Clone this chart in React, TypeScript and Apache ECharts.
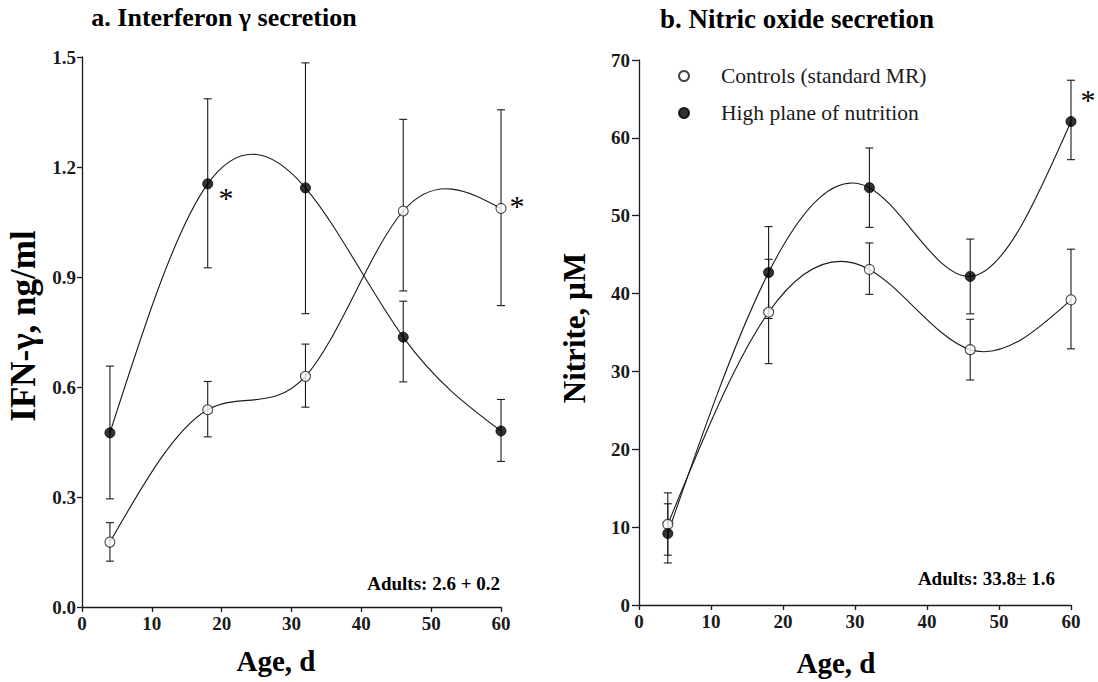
import React, { useEffect, useRef } from 'react';
import * as echarts from 'echarts';

// ---- Data ----
const ages = [4, 18, 32, 46, 60];
const xTicks = [0, 10, 20, 30, 40, 50, 60];

// Panel a: Interferon-gamma secretion (ng/ml)
const ifnControl = [0.177, 0.538, 0.629, 1.08, 1.087];
const ifnControlLow = [0.125, 0.464, 0.545, 0.862, 0.822];
const ifnControlHigh = [0.23, 0.615, 0.717, 1.33, 1.356];
const ifnHigh = [0.475, 1.154, 1.143, 0.736, 0.48];
const ifnHighLow = [0.295, 0.925, 0.8, 0.614, 0.397];
const ifnHighHigh = [0.657, 1.386, 1.484, 0.834, 0.566];

// Panel b: Nitric oxide secretion (nitrite, µM)
const noControl = [10.35, 37.6, 43.1, 32.8, 39.2];
const noControlLow = [6.4, 31.0, 39.9, 28.9, 32.9];
const noControlHigh = [14.4, 44.4, 46.5, 36.7, 45.7];
const noHigh = [9.18, 42.7, 53.6, 42.2, 62.1];
const noHighLow = [5.4, 36.8, 48.5, 37.4, 57.2];
const noHighHigh = [13.0, 48.6, 58.7, 47.0, 67.4];

const CONTROL_NAME = 'Controls (standard MR)';
const HIGH_NAME = 'High plane of nutrition';

const SERIF = "'Liberation Serif', 'Times New Roman', serif";
const INK = '#1a1a1a';

// natural cubic spline slopes at the nodes
function splineSlopes(xs: number[], ys: number[]): number[] {
  const n = xs.length;
  const h: number[] = [];
  for (let i = 0; i < n - 1; i++) h.push(xs[i + 1] - xs[i]);
  const a: number[] = [], b: number[] = [], c: number[] = [], d: number[] = [];
  for (let i = 1; i < n - 1; i++) {
    a.push(h[i - 1]);
    b.push(2 * (h[i - 1] + h[i]));
    c.push(h[i]);
    d.push(6 * ((ys[i + 1] - ys[i]) / h[i] - (ys[i] - ys[i - 1]) / h[i - 1]));
  }
  const m = a.length;
  for (let i = 1; i < m; i++) {
    const w = a[i] / b[i - 1];
    b[i] -= w * c[i - 1];
    d[i] -= w * d[i - 1];
  }
  const sol: number[] = new Array(m).fill(0);
  if (m > 0) {
    sol[m - 1] = d[m - 1] / b[m - 1];
    for (let i = m - 2; i >= 0; i--) sol[i] = (d[i] - c[i] * sol[i + 1]) / b[i];
  }
  const M = new Array(n).fill(0);
  for (let i = 0; i < m; i++) M[i + 1] = sol[i];
  const s: number[] = [];
  for (let i = 0; i < n - 1; i++) s.push((ys[i + 1] - ys[i]) / h[i] - (h[i] * (2 * M[i] + M[i + 1])) / 6);
  s.push((ys[n - 1] - ys[n - 2]) / h[n - 2] + (h[n - 2] * (M[n - 2] + 2 * M[n - 1])) / 6);
  return s;
}

function curveSeries(xs: number[], ys: number[], g: number) {
  const slopes = splineSlopes(xs, ys);
  return {
    type: 'custom',
    xAxisIndex: g,
    yAxisIndex: g,
    silent: true,
    z: 3,
    data: xs.map((x, i) => [x, ys[i], slopes[i]]),
    encode: { x: 0, y: 1 },
    renderItem: (params: any, api: any) => {
      const i = params.dataIndex;
      if (i >= xs.length - 1) return { type: 'group', children: [] };
      const x0 = xs[i], y0 = ys[i], x1 = xs[i + 1], y1 = ys[i + 1];
      const t = (x1 - x0) / 3;
      const p0 = api.coord([x0, y0]);
      const c0 = api.coord([x0 + t, y0 + slopes[i] * t]);
      const c1 = api.coord([x1 - t, y1 - slopes[i + 1] * t]);
      const p1 = api.coord([x1, y1]);
      return {
        type: 'bezierCurve',
        shape: { x1: p0[0], y1: p0[1], x2: p1[0], y2: p1[1], cpx1: c0[0], cpy1: c0[1], cpx2: c1[0], cpy2: c1[1] },
        style: { stroke: INK, fill: 'none', lineWidth: 1.1 },
      };
    },
  };
}

function errorSeries(xs: number[], lows: number[], highs: number[], g: number) {
  return {
    type: 'custom',
    xAxisIndex: g,
    yAxisIndex: g,
    silent: true,
    z: 2,
    data: xs.map((x, i) => [x, lows[i], highs[i]]),
    encode: { x: 0, y: [1, 2] },
    renderItem: (params: any, api: any) => {
      const x = api.value(0);
      const lo = api.coord([x, api.value(1)]);
      const hi = api.coord([x, api.value(2)]);
      const w = 4;
      const st = { stroke: INK, lineWidth: 1.1 };
      return {
        type: 'group',
        children: [
          { type: 'line', shape: { x1: hi[0], y1: hi[1], x2: lo[0], y2: lo[1] }, style: st },
          { type: 'line', shape: { x1: hi[0] - w, y1: hi[1], x2: hi[0] + w, y2: hi[1] }, style: st },
          { type: 'line', shape: { x1: lo[0] - w, y1: lo[1], x2: lo[0] + w, y2: lo[1] }, style: st },
        ],
      };
    },
  };
}

function pointSeries(name: string, xs: number[], ys: number[], g: number, filled: boolean) {
  return {
    type: 'scatter',
    name,
    xAxisIndex: g,
    yAxisIndex: g,
    z: 5,
    symbol: 'circle',
    symbolSize: 10,
    data: xs.map((x, i) => [x, ys[i]]),
    itemStyle: filled
      ? { color: '#000', borderColor: '#000', borderWidth: 1 }
      : { color: '#fff', borderColor: INK, borderWidth: 1.1 },
  };
}

const axisCommon = {
  axisLine: { show: true, onZero: false, lineStyle: { color: INK, width: 1.3 } },
  axisTick: { show: true, length: 5, lineStyle: { color: INK, width: 1.3 } },
  splitLine: { show: false },
};
const tickFont = { fontFamily: SERIF, fontWeight: 'bold', fontSize: 19, color: INK };

function xAxis(g: number) {
  return {
    type: 'value',
    gridIndex: g,
    min: xTicks[0],
    max: xTicks[xTicks.length - 1],
    interval: 10,
    ...axisCommon,
    axisLabel: { ...tickFont, margin: 7 },
  };
}

function text(x: number, y: number, str: string, size: number, weight: string, extra: any = {}) {
  const { align, ...rest } = extra;
  return {
    type: 'text',
    x,
    y,
    silent: true,
    ...rest,
    style: {
      text: str,
      fontFamily: SERIF,
      fontSize: size,
      fontWeight: weight,
      fill: '#000',
      align: align || 'center',
      verticalAlign: 'middle',
    },
  };
}

export default function App() {
  const ref = useRef<HTMLDivElement>(null);
  useEffect(() => {
    if (!ref.current) return;
    const chart = echarts.init(ref.current, undefined, { renderer: 'svg' });
    chart.setOption({
      animation: false,
      backgroundColor: '#fff',
      grid: [
        { left: 82, top: 57, width: 419, height: 550 },
        { left: 639, top: 60, width: 432, height: 545 },
      ],
      xAxis: [xAxis(0), xAxis(1)],
      yAxis: [
        {
          type: 'value',
          gridIndex: 0,
          min: 0,
          max: 1.5,
          interval: 0.3,
          ...axisCommon,
          axisLabel: { ...tickFont, margin: 6, formatter: (v: number) => v.toFixed(1) },
        },
        {
          type: 'value',
          gridIndex: 1,
          min: 0,
          max: 70,
          interval: 10,
          ...axisCommon,
          axisTick: { show: true, length: 7, lineStyle: { color: INK, width: 1.3 } },
          axisLabel: { ...tickFont, margin: 9 },
        },
      ],
      legend: {
        data: [CONTROL_NAME, HIGH_NAME],
        orient: 'vertical',
        left: 673,
        top: 60,
        itemWidth: 64,
        itemHeight: 10,
        itemGap: 15,
        selectedMode: false,
        textStyle: { fontFamily: SERIF, fontSize: 21.5, color: INK, lineHeight: 22 },
      },
      series: [
        errorSeries(ages, ifnControlLow, ifnControlHigh, 0),
        errorSeries(ages, ifnHighLow, ifnHighHigh, 0),
        curveSeries(ages, ifnControl, 0),
        curveSeries(ages, ifnHigh, 0),
        pointSeries(CONTROL_NAME, ages, ifnControl, 0, false),
        pointSeries(HIGH_NAME, ages, ifnHigh, 0, true),
        errorSeries(ages, noControlLow, noControlHigh, 1),
        errorSeries(ages, noHighLow, noHighHigh, 1),
        curveSeries(ages, noControl, 1),
        curveSeries(ages, noHigh, 1),
        pointSeries(CONTROL_NAME, ages, noControl, 1, false),
        pointSeries(HIGH_NAME, ages, noHigh, 1, true),
      ],
      graphic: [
        text(224, 17, 'a. Interferon γ secretion', 26, 'bold'),
        text(797, 19, 'b. Nitric oxide secretion', 27, 'bold'),
        text(23, 326, 'IFN-γ, ng/ml', 35, 'bold', { rotation: Math.PI / 2 }),
        text(574, 328, 'Nitrite, µM', 31, 'bold', { rotation: Math.PI / 2 }),
        text(276, 661, 'Age, d', 29, 'bold'),
        text(836, 663, 'Age, d', 29, 'bold'),
        text(500, 583, 'Adults: 2.6 + 0.2', 19, 'bold', { align: 'right' }),
        text(1055, 578, 'Adults: 33.8± 1.6', 19, 'bold', { align: 'right' }),
        text(226, 197, '*', 30, 'normal'),
        text(517, 205, '*', 30, 'normal'),
        text(1088, 99, '*', 30, 'normal'),
      ],
    });
    return () => chart.dispose();
  }, []);
  return (
    <div
      ref={ref}
      style={{ position: 'fixed', left: 0, top: 0, width: 1098, height: 682, background: '#fff' }}
    />
  );
}
